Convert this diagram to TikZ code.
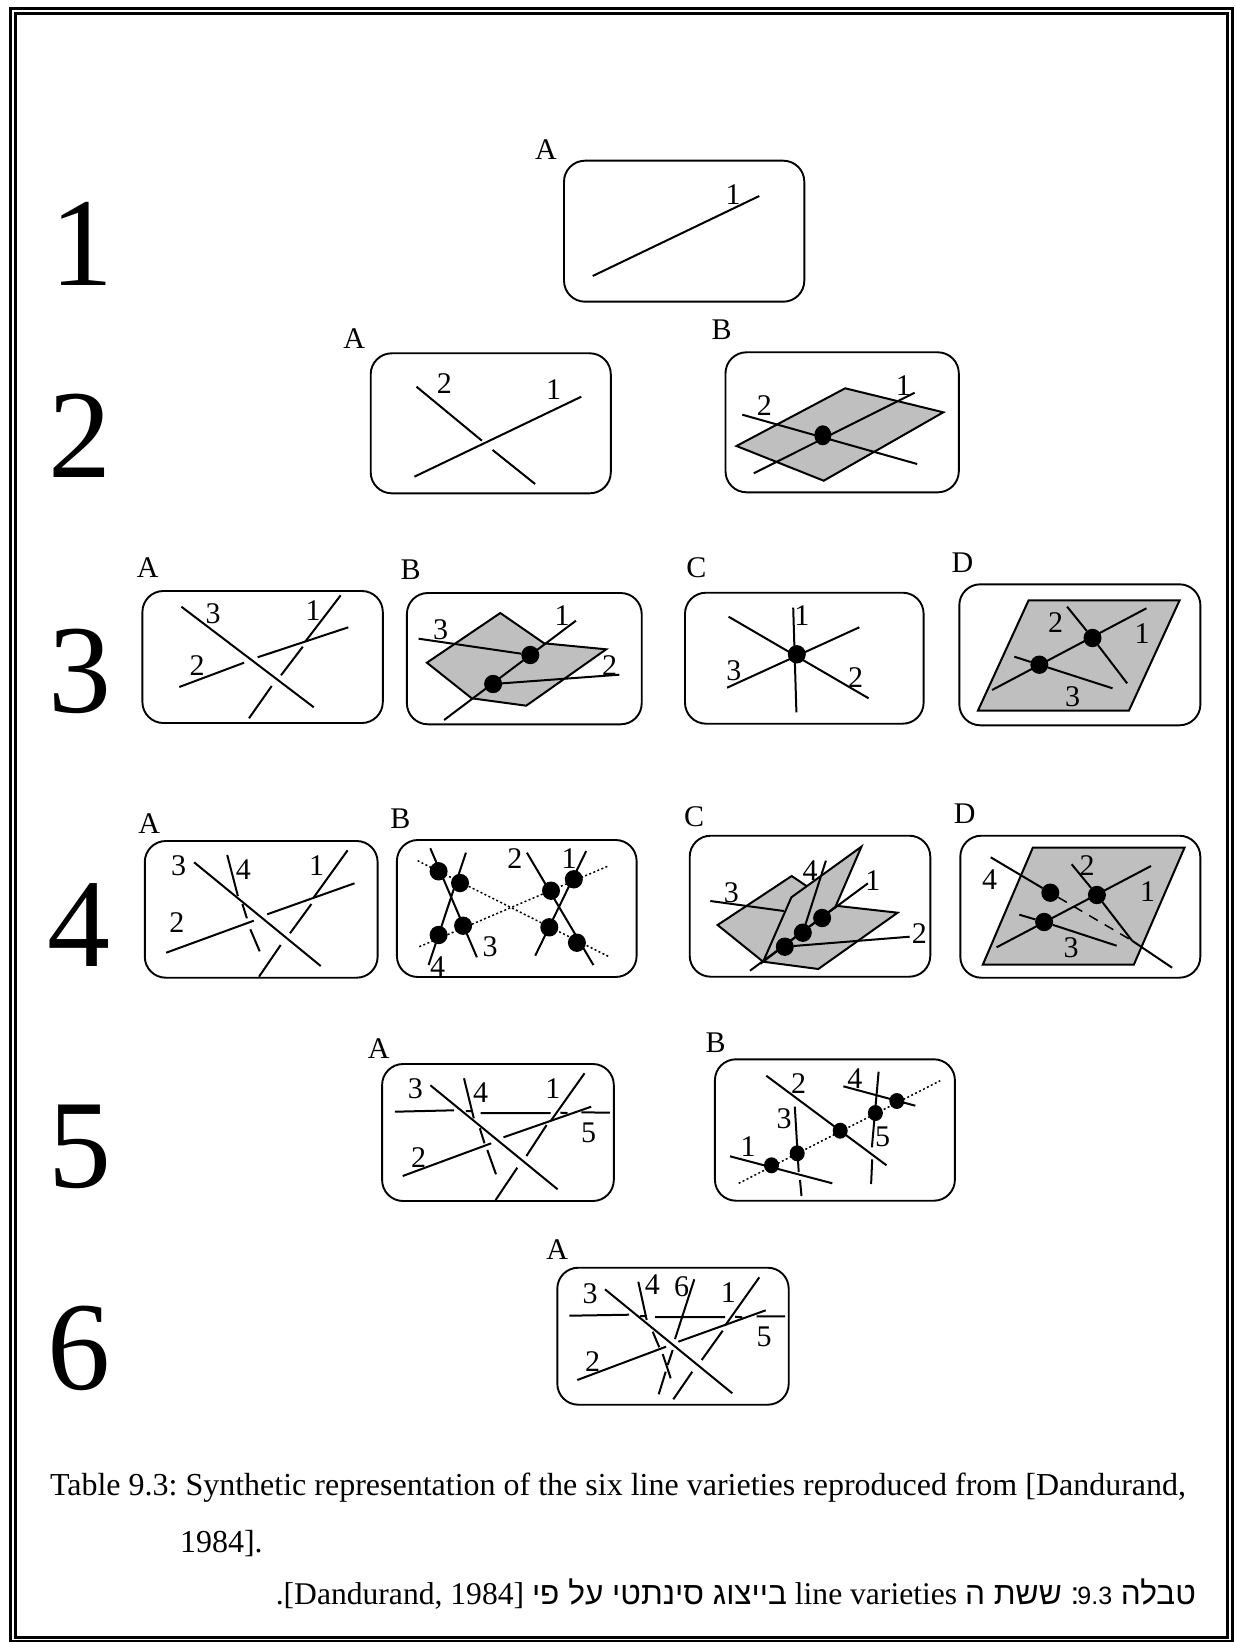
\documentclass[tikz,border=0pt]{standalone}
\usepackage{fontspec}
\setmainfont{Liberation Serif}
\newfontfamily\hebrewfont[Script=Hebrew]{Liberation Sans}
\usetikzlibrary{shapes.geometric}
\TeXXeTstate=1
\definecolor{VarietyPlane}{gray}{0.75}
\tikzset{
    table/diagram/.style={
        x=0.5pt, y=-0.5pt,
        line cap=butt,
        line join=miter,
        every node/.style={inner sep=0pt, outer sep=0pt}
    },
    table/frame/.style={draw=black, line width=1.5pt},
    table/panel/.style={draw=black, line width=0.95pt, rounded corners=10.5pt},
    table/line/.style={draw=black, line width=1pt},
    table/plane/.style={fill=VarietyPlane, draw=black, line width=1pt},
    table/dotted/.style={draw=black, line width=0.75pt, dash pattern=on 1pt off 1.2pt},
    table/dashed/.style={draw=black, line width=0.75pt, dash pattern=on 5pt off 4pt},
    table/point/.style={
        ellipse, fill=black, inner sep=0pt,
        minimum width=9pt, minimum height=9.2pt
    },
    table/smallpoint/.style={table/point, minimum width=7.5pt, minimum height=8pt},
    table/number/.style={font=\fontsize{15}{15}\selectfont},
    table/row/.style={font=\fontsize{63}{63}\selectfont},
    table/caption/.style={font=\fontsize{16}{16}\selectfont\frenchspacing},
    table/hebrew/.style={font=\fontsize{15.8}{16}\selectfont\frenchspacing}
}
\begin{document}
\begin{tikzpicture}[table/diagram]
    \useasboundingbox (0,0) rectangle (1236,1642);
    \draw[table/frame] (10.5,8.5) rectangle (1232,1641);
    \draw[table/frame] (15.5,13.5) rectangle (1227,1637);
    \foreach \x/\y/\lab in {82/244/1,80/436/2,80/671/3,79/925/4,80/1147/5,79/1348/6} {
        \node[table/row] (row\lab) at (\x,\y) {\lab};
    }

    \begin{scope}[name prefix=r1a-]
        \node[table/number] (letter) at (546,150) {A};
        \draw[table/panel] (564,160.7) rectangle (804.3,301.7);
        \draw[table/line] (592.7,276) -- (759.3,196);
        \node[table/number] (n1) at (733,195) {1};
    \end{scope}

    \begin{scope}[name prefix=r2a-]
        \node[table/number] (letter) at (354.3,338.3) {A};
        \draw[table/panel] (370.7,353.3) rectangle (610.8,493.3);
        \draw[table/line] (414.4,476.7) -- (581.3,396.7);
        \draw[table/line] (416.5,386.7) -- (481.9,440.7) (492.6,450) -- (535.1,484);
        \foreach \x/\y/\lab in {444.3/384/2,553.5/389.3/1} {
            \node[table/number] (n\lab) at (\x,\y) {\lab};
        }
    \end{scope}

    \begin{scope}[name prefix=r2b-]
        \node[table/number] (letter) at (721.6,329.3) {B};
        \draw[table/panel] (725.5,352.3) rectangle (958.8,492.3);
        \draw[table/plane] (845.2,388.3) -- (943.3,412.3) -- (823.7,480.7) -- (736.5,446) -- cycle;
        \draw[table/line] (753.7,473.3) -- (914.7,392.7);
        \draw[table/line] (742.3,414.7) -- (917.1,464);
        \node[table/point, minimum width=8.5pt, minimum height=10pt] (p1) at (822.8,435.3) {};
        \foreach \x/\y/\lab in {764.4/406/2,903.4/386/1} {
            \node[table/number] (n\lab) at (\x,\y) {\lab};
        }
    \end{scope}

    \begin{scope}[name prefix=r3a-]
        \node[table/number] (letter) at (147.6,567.3) {A};
        \draw[table/panel] (142.4,591) rectangle (382.8,723);
        \draw[table/line] (181.4,606.7) -- (313.8,707.3);
        \draw[table/line] (179.3,687) -- (244.1,662.7) (257.6,657.3) -- (348.3,627.3);
        \draw[table/line] (340.7,595.3) -- (305.2,641.7) (302.8,646.7) -- (281,675.3)
            (271.7,686) -- (249,718.3);
        \foreach \x/\y/\lab in {313.1/610.7/1,197.2/665.3/2,213.1/614/3} {
            \node[table/number] (n\lab) at (\x,\y) {\lab};
        }
    \end{scope}

    \begin{scope}[name prefix=r3b-]
        \node[table/number] (letter) at (410.7,570) {B};
        \draw[table/panel] (406.9,593) rectangle (641.7,724.3);
        \draw[table/plane] (500.3,613) -- (544.1,643.3) -- (606.2,649.3) -- (526.2,705.7)
            -- (471.7,698.3) -- (426.9,662.7) -- cycle;
        \draw[table/line] (444.1,720) -- (575.9,620.7);
        \foreach \x/\y [count=\i] in {530.3/655,493.1/684} {
            \node[table/point] (p\i) at (\x,\y) {};
        }
        \draw[table/line] (418.6,638.7) -- (p1);
        \draw[table/line] (p2) -- (619.3,674.7);
        \foreach \x/\y/\lab in {562.1/616/1,609.7/666/2,440.7/629.3/3} {
            \node[table/number] (n\lab) at (\x,\y) {\lab};
        }
    \end{scope}

    \begin{scope}[name prefix=r3c-]
        \node[table/number] (letter) at (696.4,567.3) {C};
        \draw[table/panel] (685,592.7) rectangle (923.6,723.7);
        \draw[table/line] (728.6,616.7) -- (868.6,698.3);
        \draw[table/line] (727.1,687.7) -- (859.3,627.3);
        \draw[table/line] (793.2,607.7) -- (796.4,712.3);
        \node[table/point] (p1) at (796.8,654.3) {};
        \foreach \x/\y/\lab in {801.8/616/1,855.7/677.3/2,733.9/671/3} {
            \node[table/number] (n\lab) at (\x,\y) {\lab};
        }
    \end{scope}

    \begin{scope}[name prefix=r3d-]
        \node[table/number] (letter) at (962.5,562.7) {D};
        \draw[table/panel] (959.3,584.3) rectangle (1200.4,725.3);
        \draw[table/plane] (1028.6,600.3) -- (1179.6,600.3) -- (1128.9,710.7) -- (977.9,710.7) -- cycle;
        \draw[table/line] (992.1,690) -- (1146.4,608.3);
        \foreach \x/\y [count=\i] in {1092.5/638,1039.3/664.7} {
            \node[table/point] (p\i) at (\x,\y) {};
        }
        \draw[table/line] (1067.1,606.7) -- (p1) -- (1127.1,683.3);
        \draw[table/line] (1014.3,656.7) -- (p2) -- (1112.5,688.3);
        \foreach \x/\y/\lab in {1142.1/634/1,1055.7/622.7/2,1072.5/696.7/3} {
            \node[table/number] (n\lab) at (\x,\y) {\lab};
        }
    \end{scope}

    \begin{scope}[name prefix=r4a-]
        \node[table/number] (letter) at (149.3,823.3) {A};
        \draw[table/panel] (144.8,841) rectangle (377.6,977.7);
        \draw[table/line] (194.1,862.3) -- (320.7,966);
        \draw[table/line] (166.2,952.7) -- (253.8,920.7) (267.2,914.3) -- (354.5,883.3);
        \draw[table/line] (347.6,850.3) -- (313.8,897.3) (311.4,904) -- (290,933.3)
            (280.7,945) -- (259,976.7);
        \draw[table/line] (227.2,855) -- (237.9,896) (242.4,904) -- (246.9,918.3)
            (250.3,929.3) -- (259.7,951.3);
        \foreach \x/\y/\lab in {316.6/866/1,176.9/922.7/2,178.6/866/3,243.4/870/4} {
            \node[table/number] (n\lab) at (\x,\y) {\lab};
        }
    \end{scope}

    \begin{scope}[name prefix=r4b-]
        \node[table/number] (letter) at (400.3,818.3) {B};
        \draw[table/panel] (396.9,840) rectangle (636.6,977);
        \draw[table/dotted] (417.6,860.7) -- (609,956.7);
        \draw[table/dotted] (419.3,946.7) -- (609,865.7);
        \draw[table/line] (430.3,848.3) -- (476.9,957.3);
        \draw[table/line] (465.9,852.7) -- (428.6,965);
        \draw[table/line] (526.9,852.7) -- (593.4,965);
        \draw[table/line] (586.2,851) -- (535.2,955.7);
        \foreach \x/\y [count=\i] in {438.6/871.3,460/883,463.1/925.7,438.6/935,
                551/890.7,573.8/879.3,549.3/927.3,576.9/942.7} {
            \node[table/point] (p\i) at (\x,\y) {};
        }
        \foreach \x/\y/\lab in {569/858.3/1,514.8/858.3/2,490/946.7/3,437.6/966.7/4} {
            \node[table/number] (n\lab) at (\x,\y) {\lab};
        }
    \end{scope}

    \begin{scope}[name prefix=r4c-]
        \node[table/number] (letter) at (694.1,816.7) {C};
        \draw[table/panel] (689.7,835.7) rectangle (930.3,976.7);
        \draw[table/plane] (791.7,876) -- (835.5,905.7) -- (897.6,912.7) -- (818.3,969)
            -- (763.1,961.7) -- (717.6,925) -- cycle;
        \draw[table/line] (710.3,901) -- (783.8,911);
        \draw[table/plane] (861.4,846.7) -- (791.4,897.3) -- (763.1,961.7) -- (835.5,906.7) -- cycle;
        \draw[table/line] (750,970.7) -- (867.9,883.3);
        \foreach \x/\y [count=\i] in {784.8/946.7,802.8/932.7,822.1/918} {
            \node[table/point] (p\i) at (\x,\y) {};
        }
        \draw[table/line] (p1) -- (909.7,936.7);
        \draw[table/line] (825.9,860.7) -- (p2);
        \foreach \x/\y/\lab in {872.8/880.7/1,919.3/933.3/2,731.4/892.7/3,810/870.7/4} {
            \node[table/number] (n\lab) at (\x,\y) {\lab};
        }
    \end{scope}

    \begin{scope}[name prefix=r4d-]
        \node[table/number] (letter) at (964.8,814) {D};
        \draw[table/panel] (960.3,835.7) rectangle (1200.3,977.7);
        \draw[table/plane] (1032.8,847.7) -- (1184.5,847.7) -- (1133.8,964.7) -- (982.8,964.7) -- cycle;
        \draw[table/line] (996.6,947.3) -- (1151,866);
        \foreach \x/\y [count=\i] in {1096.9/895,1044.1/922,1050.3/892.7} {
            \node[table/point] (p\i) at (\x,\y) {};
        }
        \coordinate (cross) at (1132.1,940.7);
        \draw[table/line] (1071.7,864.3) -- (p1) -- (cross);
        \draw[table/line] (1019.3,914.7) -- (p2) -- (1116.6,945.7);
        \draw[table/line] (990.7,857.3) -- (p3);
        \draw[table/dashed] (p3) -- (cross);
        \draw[table/line] (cross) -- (1172.1,967.7);
        \foreach \x/\y/\lab in {1147.6/891.7/1,1087.2/866/2,1071/947.7/3,989.7/879.3/4} {
            \node[table/number] (n\lab) at (\x,\y) {\lab};
        }
    \end{scope}

    \begin{scope}[name prefix=r5a-]
        \node[table/number] (letter) at (378.6,1048.3) {A};
        \draw[table/panel] (382.1,1064) rectangle (613.8,1201);
        \draw[table/line] (430.4,1085.3) -- (557.6,1189.3);
        \draw[table/line] (402.7,1176) -- (491.2,1143.3) (503.5,1137.3) -- (591.2,1106.7);
        \draw[table/line] (584.5,1073.3) -- (550.9,1120.7) (546.6,1125) -- (526.4,1156)
            (517.3,1167.7) -- (495.6,1200);
        \draw[table/line] (464,1078.3) -- (473.8,1118.3) (479.8,1128.3) -- (484.5,1143.3)
            (487.3,1150) -- (496,1174.3);
        \draw[table/line] (394.8,1111.7) -- (454.1,1110.3) (465.9,1111) -- (472.6,1111)
            (480.6,1113) -- (550.5,1113) (560.4,1112.7) -- (567.5,1113)
            (581.3,1112.3) -- (609.8,1112.7);
        \foreach \x/\y/\lab in {552.9/1088.3/1,418.5/1157.3/2,415.3/1089/3,480.6/1092.3/4,588.5/1132.7/5} {
            \node[table/number] (n\lab) at (\x,\y) {\lab};
        }
    \end{scope}

    \begin{scope}[name prefix=r5b-]
        \node[table/number] (letter) at (715.7,1042.7) {B};
        \draw[table/panel] (714.9,1059.3) rectangle (954.9,1200.7);
        \draw[table/dotted] (738.7,1183.3) -- (940.2,1080.7);
        \draw[table/line] (766.3,1075.7) -- (886.5,1165.3);
        \draw[table/line] (843.4,1086.3) -- (915.3,1105.7);
        \draw[table/line] (878.6,1071.7) -- (871.9,1147.3) (872.2,1159.3) -- (871.1,1184);
        \draw[table/line] (794.8,1106.7) -- (798.7,1172) (800,1180) -- (801.5,1196);
        \draw[table/line] (730,1156.3) -- (832.3,1183.3);
        \foreach \x/\y [count=\i] in {771.5/1165.3,797.2/1153.3,840.2/1130.7,875.4/1113,896.8/1101} {
            \node[table/smallpoint] (p\i) at (\x,\y) {};
        }
        \foreach \x/\y/\lab in {748.1/1146.7/1,798.7/1083.3/2,784.1/1119/3,854.9/1078.3/4,882.5/1136.7/5} {
            \node[table/number] (n\lab) at (\x,\y) {\lab};
        }
    \end{scope}

    \begin{scope}[name prefix=r6a-]
        \node[table/number] (letter) at (557.3,1249.3) {A};
        \draw[table/panel] (557.3,1267.7) rectangle (788.7,1404.7);
        \draw[table/line] (605,1289.3) -- (732.3,1393.3);
        \draw[table/line] (577.3,1380) -- (666,1346.7) (678.3,1341.7) -- (765.7,1310.3);
        \draw[table/line] (759.3,1277.3) -- (725,1325.7) (722.7,1330.7) -- (701.7,1360)
            (692.3,1371.7) -- (673.3,1399.3);
        \draw[table/line] (638.3,1281.7) -- (646.7,1320) (652.7,1331.7) -- (659.3,1347.3)
            (662.7,1354) -- (670.7,1378.3);
        \draw[table/line] (569.3,1315.7) -- (629,1314.7) (640,1316) -- (646.7,1316)
            (655,1317) -- (725,1317) (735,1316.7) -- (742.3,1317.3)
            (756.7,1316.3) -- (785,1316.3);
        \draw[table/line] (694.3,1279.3) -- (675,1339) (672.7,1350) -- (667.7,1365)
            (665.7,1371.7) -- (658.7,1394.3);
        \foreach \x/\y/\lab in {728.3/1292.7/1,592.7/1361.7/2,590/1294/3,652.3/1285/4,764/1337.3/5,681.7/1286.7/6} {
            \node[table/number] (n\lab) at (\x,\y) {\lab};
        }
    \end{scope}

    \node[table/caption, anchor=base west] (caption1) at (50,1495)
        {Table 9.3: Synthetic representation of the six line varieties reproduced from [Dandurand,};
    \node[table/caption, anchor=base west] (caption2) at (180,1552) {1984].};
    \node[table/hebrew, anchor=base east] (caption3) at (1196,1604)
        {\beginR{\hebrewfont טבלה \beginL{\fontsize{12.5}{16}\selectfont 9.3}\endL\kern-1pt: ששת ה} \beginL line varieties\endL{} {\hebrewfont בייצוג סינתטי על פי} \beginL[Dandurand, 1984]\endL.\endR};
\end{tikzpicture}
\end{document}
